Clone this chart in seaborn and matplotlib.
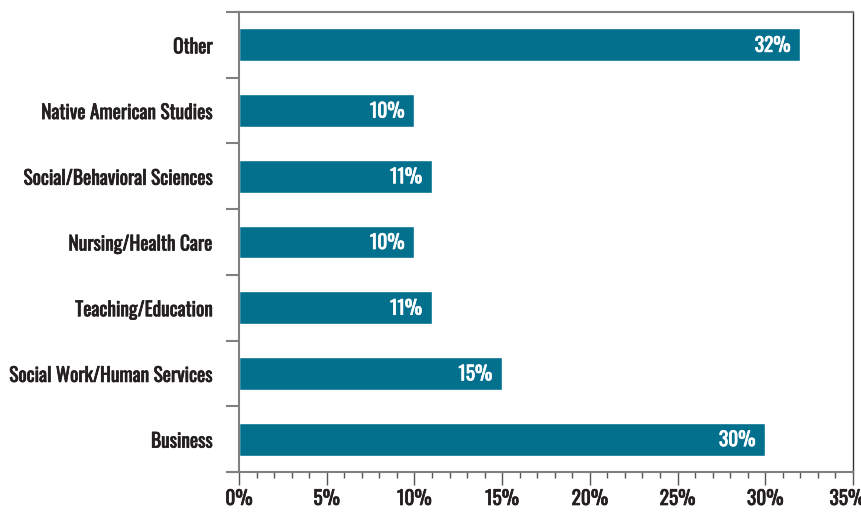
import matplotlib
matplotlib.use('Agg')
import matplotlib.pyplot as plt
import matplotlib.patheffects as pe
import seaborn as sns
from matplotlib import font_manager
from matplotlib.ticker import MultipleLocator, FixedLocator, FuncFormatter

# fields of study, listed top to bottom
categories = ['Other', 'Native American Studies', 'Social/Behavioral Sciences',
              'Nursing/Health Care', 'Teaching/Education',
              'Social Work/Human Services', 'Business']
shares = [32, 10, 11, 10, 11, 15, 30]
x_max = 35

bar_color = '#03708e'
text_color = '#231f20'

# pick a condensed face if one is installed
installed = {f.name for f in font_manager.fontManager.ttflist}
family = 'DejaVu Sans'
for cand in ['Oswald', 'Barlow Condensed', 'Roboto Condensed', 'Archivo Narrow',
             'PT Sans Narrow', 'Liberation Sans Narrow', 'Open Sans Condensed']:
    if cand in installed:
        family = cand
        break

sns.set_style('white')
plt.rcParams['font.family'] = [family, 'DejaVu Sans']
plt.rcParams['font.weight'] = 'medium'

fig = plt.figure(figsize=(8.61, 5.15), dpi=100)
ax = fig.add_axes([239 / 861, 1 - 472 / 515, 614 / 861, 460 / 515])

# size the text so the widest label spans about 203 px, as in the original
probe = fig.text(0, 0, 'Social Work/Human Services', fontsize=10)
w = probe.get_window_extent(renderer=fig.canvas.get_renderer()).width
probe.remove()
fs = min(16, 10 * 203 / w)

# a thin stroke of the text colour makes the face look a bit heavier
dark_fx = [pe.withStroke(linewidth=0.5, foreground=text_color)]
white_fx = [pe.withStroke(linewidth=0.5, foreground='white')]

sns.barplot(x=shares, y=categories, orient='h', color=bar_color,
            saturation=1, width=0.5, ax=ax)

for i, v in enumerate(shares):
    ax.annotate(f'{v}%', xy=(v, i), xytext=(-7, 0), textcoords='offset points',
                ha='right', va='center', color='white', fontsize=fs,
                path_effects=white_fx)

ax.set_xlim(0, x_max)
ax.set_ylim(6.5, -0.5)
ax.set_xlabel('')
ax.set_ylabel('')

# x axis: major every 5%, minor every 1%; the last label is drawn by hand
# a little to the left so it stays inside the canvas
ax.xaxis.set_major_locator(MultipleLocator(5))
ax.xaxis.set_minor_locator(MultipleLocator(1))
ax.xaxis.set_major_formatter(FuncFormatter(lambda v, p: '' if v >= x_max else f'{v:.0f}%'))
ax.tick_params(axis='x', which='major', direction='out', length=9.5, width=1,
               color='#555555', labelsize=fs, labelcolor=text_color, pad=2,
               bottom=True)
ax.tick_params(axis='x', which='minor', direction='out', length=4.5, width=1,
               color='#555555', bottom=True)
ax.annotate(f'{x_max}%', xy=(x_max, 0), xycoords=('data', 'axes fraction'),
            xytext=(-4, -11.5), textcoords='offset points', ha='center', va='top',
            color=text_color, fontsize=fs, path_effects=dark_fx,
            annotation_clip=False)

# y axis: labels at bar centres, tick marks on the category boundaries
ax.yaxis.set_minor_locator(FixedLocator([i - 0.5 for i in range(len(categories) + 1)]))
ax.tick_params(axis='y', which='major', length=0, labelsize=fs,
               labelcolor=text_color, pad=19)
ax.tick_params(axis='y', which='minor', direction='out', length=9.5, width=1.5,
               color='#808080', left=True)

for lbl in ax.get_xticklabels() + ax.get_yticklabels():
    lbl.set_path_effects(dark_fx)

for side in ['left', 'bottom', 'top']:
    ax.spines[side].set_visible(True)
    ax.spines[side].set_color('#808080')
    ax.spines[side].set_linewidth(1.5)
ax.spines['right'].set_visible(True)
ax.spines['right'].set_color('#333333')
ax.spines['right'].set_linewidth(1)

fig.savefig('out.png', dpi=100)
